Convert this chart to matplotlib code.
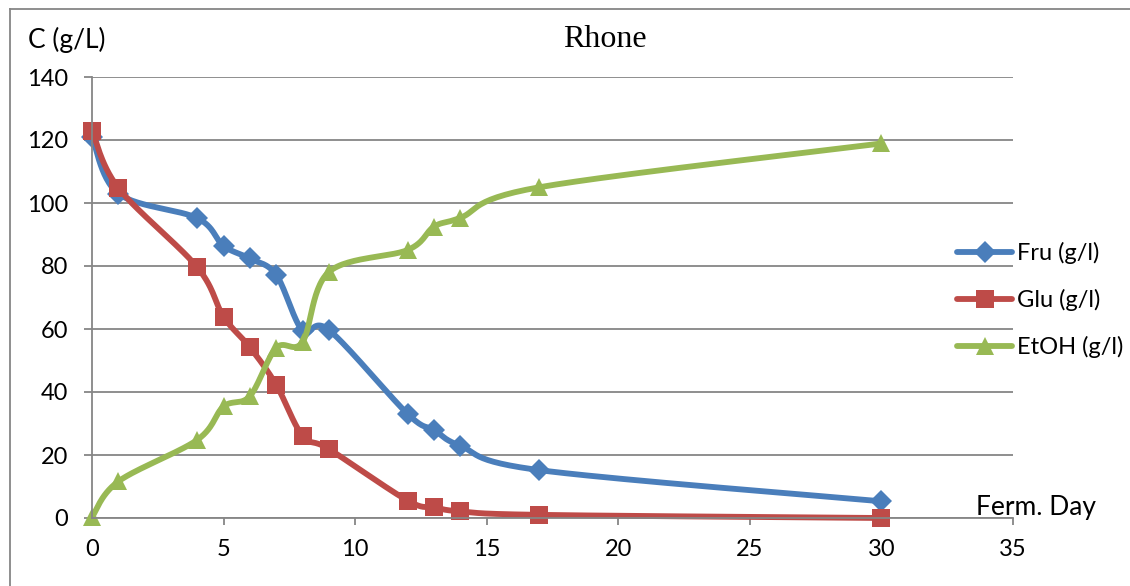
import numpy as np
import matplotlib.pyplot as plt
from matplotlib.lines import Line2D

# Fermentation kinetics, Rhone
days = [0, 1, 4, 5, 6, 7, 8, 9, 12, 13, 14, 17, 30]
fru = [121, 103, 95.2, 86.4, 82.4, 77.2, 59.5, 59.7, 33.0, 27.9, 22.9, 15.2, 5.3]
glu = [123, 104.8, 79.6, 63.9, 54.2, 42.3, 26.1, 21.9, 5.5, 3.4, 2.1, 1.0, 0.0]
etoh = [0.3, 11.6, 24.8, 35.4, 38.7, 54.0, 55.9, 78.1, 85.1, 92.5, 95.3, 105.0, 118.9]

series_labels = ['Fru (g/l)', 'Glu (g/l)', 'EtOH (g/l)']
series_colors = ['#4A7EBB', '#BE4B48', '#98B954']
series_markers = ['D', 's', '^']
marker_sizes = [11, 13, 13]

x_ticks = [0, 5, 10, 15, 20, 25, 30, 35]
y_ticks = [0, 20, 40, 60, 80, 100, 120, 140]

GRID = '#868686'


def smooth(xs, ys, sx, sy, n=30):
    # excel-style smoothed line: cubic bezier through points (catmull-rom control points)
    pts = np.column_stack([np.asarray(xs, float) * sx, np.asarray(ys, float) * sy])
    ext = np.vstack([pts[0], pts, pts[-1]])
    t = np.linspace(0, 1, n)[:, None]
    out = []
    for i in range(len(pts) - 1):
        p0, p1, p2, p3 = ext[i], ext[i + 1], ext[i + 2], ext[i + 3]
        c1 = p1 + (p2 - p0) / 6
        c2 = p2 - (p3 - p1) / 6
        seg = (1 - t) ** 3 * p1 + 3 * (1 - t) ** 2 * t * c1 + 3 * (1 - t) * t ** 2 * c2 + t ** 3 * p2
        out.append(seg if i == 0 else seg[1:])
    c = np.vstack(out)
    return c[:, 0] / sx, c[:, 1] / sy


plt.rcParams['font.family'] = ['Lato', 'DejaVu Sans']

fig = plt.figure(figsize=(11.3, 5.86), dpi=100)
ax = fig.add_axes([92 / 1130, 1 - 518 / 586, 921 / 1130, 441 / 586])

handles = []
for ys, lab, col, mk, ms in zip([fru, glu, etoh], series_labels, series_colors,
                                series_markers, marker_sizes):
    sx_, sy_ = smooth(days, ys, 26.3, 3.15)
    ax.plot(sx_, sy_, '-', color=col, lw=4.2, solid_capstyle='round', clip_on=False)
    ax.plot(days, ys, mk, color=col, markersize=ms, markeredgewidth=0, clip_on=False)
    handles.append(Line2D([], [], color=col, lw=4.2, solid_capstyle='round',
                          marker=mk, markersize=ms, markeredgewidth=0))

ax.set_xlim(0, 35)
ax.set_ylim(0, 140)
ax.set_xticks(x_ticks)
ax.set_yticks(y_ticks)
ax.yaxis.grid(True, color=GRID, lw=1.3)
ax.set_axisbelow(True)
for s in ['top', 'right']:
    ax.spines[s].set_visible(False)
for s in ['left', 'bottom']:
    ax.spines[s].set_color(GRID)
    ax.spines[s].set_linewidth(1.3)
ax.tick_params(axis='x', length=5, width=1.3, color=GRID, pad=10, labelsize=17)
ax.tick_params(axis='y', length=6, width=1.3, color=GRID, pad=11, labelsize=17)

ax.legend(handles=handles, labels=series_labels, loc='center left',
          bbox_to_anchor=(957 / 1130, 1 - 300 / 586), bbox_transform=fig.transFigure,
          frameon=False, fontsize=17, handlelength=2.35, handletextpad=0.2,
          labelspacing=1.05, borderpad=0, borderaxespad=0)

fig.text(605 / 1130, 1 - 47 / 586, 'Rhone', ha='center', va='baseline',
         family='Liberation Serif', fontsize=23)
fig.text(28 / 1130, 1 - 48 / 586, 'C (g/L)', ha='left', va='baseline', fontsize=19)
fig.text(976 / 1130, 1 - 515 / 586, 'Ferm. Day', ha='left', va='baseline', fontsize=19)

# chart area border (only top and left edges fall inside the image)
fig.add_artist(Line2D([10 / 1130, 1], [1 - 9 / 586] * 2, color=GRID, lw=1.3))
fig.add_artist(Line2D([10 / 1130] * 2, [0, 1 - 9 / 586], color=GRID, lw=1.3))

fig.savefig('out.png', dpi=100)
